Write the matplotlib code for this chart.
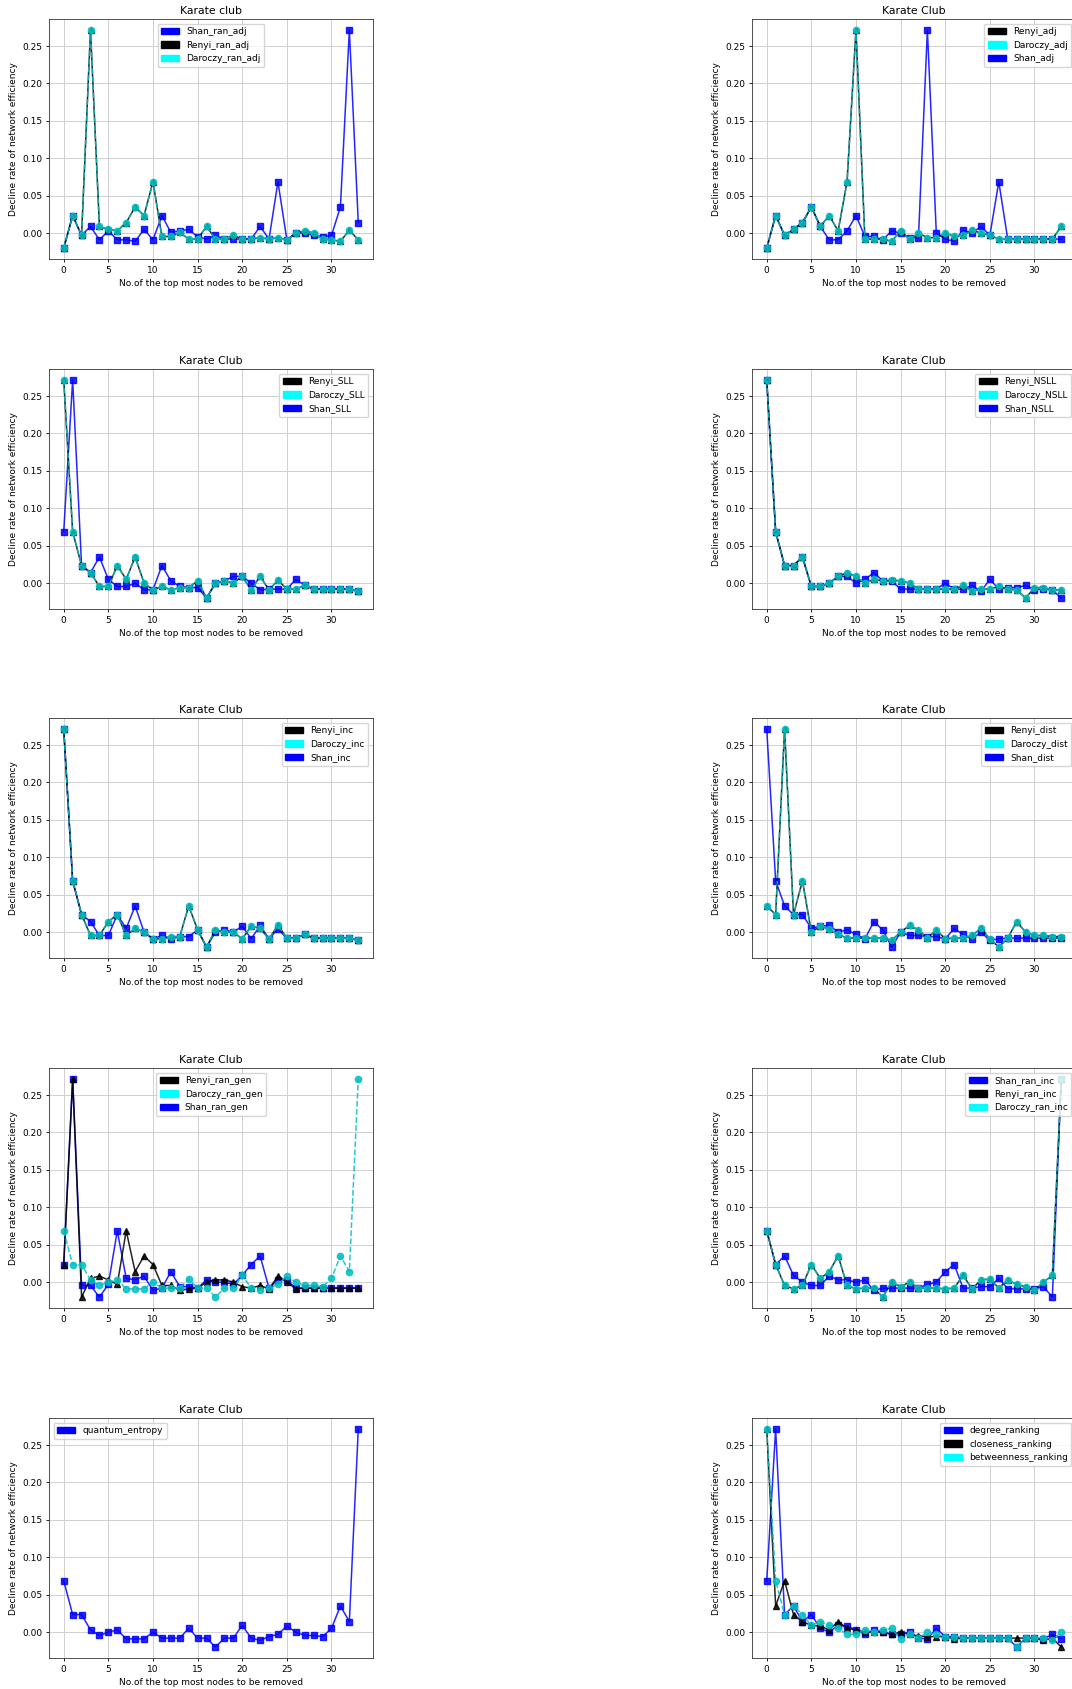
import numpy as np
import matplotlib.pyplot as plt
import matplotlib.patches as mpatches

x = np.arange(34)

# Karate club, random adjacency
shan_ran_adj = [-0.02, 0.0235, -0.003, 0.009, -0.009, 0.003, -0.009, -0.009, -0.011, 0.005, -0.009,
                0.0235, 0.001, 0.003, 0.005, -0.005, -0.008, -0.003, -0.008, -0.008, -0.008,
                -0.008, 0.009, -0.008, 0.0686, -0.009, 0.0, 0.0, -0.003, -0.005, -0.003, 0.035, 0.2716, 0.014]
renyi_ran_adj = [-0.02, 0.0235, -0.003, 0.2716, 0.009, 0.005, 0.003, 0.014, 0.035, 0.0235, 0.0686,
                 -0.0045, -0.0045, 0.001, -0.008, -0.008, 0.009, -0.008, -0.008, -0.003, -0.008,
                 -0.008, -0.006, -0.008, -0.006, -0.009, 0.0, 0.003, 0.0, -0.008, -0.009, -0.011, 0.004, -0.009]
daroczy_ran_adj = list(renyi_ran_adj)

# adjacency
shan_adj = [-0.02, 0.0235, -0.003, 0.005, 0.014, 0.035, 0.009, -0.009, -0.009, 0.003, 0.0235,
            -0.0045, -0.0045, -0.009, 0.003, 0.0, -0.006, -0.006, 0.2716, 0.0, -0.008,
            -0.011, 0.004, 0.0, 0.009, -0.003, 0.0686, -0.008, -0.008, -0.008, -0.008, -0.008, -0.008, -0.008]
renyi_adj = [-0.02, 0.0235, -0.003, 0.005, 0.014, 0.035, 0.009, 0.0235, 0.003, 0.0686, 0.2716,
             -0.008, -0.008, -0.008, -0.011, 0.003, -0.008, 0.0, -0.006, -0.006, 0.0,
             -0.004, -0.003, 0.004, 0.0, -0.003, -0.008, -0.008, -0.008, -0.008, -0.008, -0.008, -0.008, 0.009]
daroczy_adj = list(renyi_adj)

# SLL
shan_sll = [0.0686, 0.2716, 0.0235, 0.014, 0.035, 0.005, -0.0045, -0.0045, 0.0, -0.009, -0.009,
            0.0235, 0.003, -0.0045, -0.006, -0.006, -0.02, 0.0, 0.003, 0.009, 0.009,
            0.0, -0.009, -0.008, -0.008, -0.008, 0.005, -0.003, -0.008, -0.008, -0.008, -0.008, -0.008, -0.011]
renyi_sll = [0.2716, 0.0686, 0.0235, 0.014, -0.0045, -0.0045, 0.0235, 0.005, 0.035, 0.0, -0.009,
             -0.0045, -0.009, -0.006, -0.006, 0.003, -0.02, 0.0, 0.003, 0.0, 0.009,
             -0.009, 0.009, -0.009, 0.004, -0.008, -0.008, -0.003, -0.008, -0.008, -0.008, -0.008, -0.008, -0.011]
daroczy_sll = list(renyi_sll)

# NSLL
shan_nsll = [0.2716, 0.0686, 0.0235, 0.0235, 0.035, -0.0045, -0.0045, 0.0, 0.009, 0.009, 0.0,
             0.005, 0.014, 0.003, 0.003, -0.008, -0.008, -0.008, -0.008, -0.008, 0.0,
             -0.008, -0.008, -0.003, -0.011, 0.005, -0.008, -0.006, -0.006, -0.003, -0.009, -0.008, -0.009, -0.02]
renyi_nsll = [0.2716, 0.0686, 0.0235, 0.0235, 0.035, -0.0045, -0.0045, 0.0, 0.009, 0.014, 0.009,
              0.0, 0.005, 0.003, 0.004, 0.003, 0.0, -0.008, -0.008, -0.008, -0.008,
              -0.008, -0.003, -0.011, -0.008, -0.008, -0.0045, -0.008, -0.009, -0.02, -0.006, -0.006, -0.009, -0.009]
daroczy_nsll = list(renyi_nsll)

# incidence
shan_inc = [0.2716, 0.0686, 0.0235, 0.014, -0.0045, -0.0045, 0.0235, 0.005, 0.035, 0.0, -0.009,
            -0.0045, -0.009, -0.006, -0.006, 0.003, -0.02, 0.0, 0.003, 0.0, 0.008,
            -0.009, 0.009, -0.009, 0.004, -0.008, -0.008, -0.003, -0.008, -0.008, -0.008, -0.008, -0.008, -0.011]
renyi_inc = [0.2716, 0.0686, 0.0235, -0.0045, -0.0045, 0.014, 0.0235, -0.0045, 0.005, 0.0, -0.009,
             -0.009, -0.006, -0.006, 0.035, 0.003, -0.02, 0.003, 0.0, 0.0, -0.009,
             0.008, 0.005, -0.009, 0.009, -0.008, -0.008, -0.003, -0.008, -0.008, -0.008, -0.008, -0.008, -0.011]
daroczy_inc = list(renyi_inc)

# distance
shan_dist = [0.2716, 0.0686, 0.035, 0.0235, 0.0235, 0.005, 0.008, 0.009, 0.0, 0.003, -0.003,
             -0.009, 0.014, 0.003, -0.02, 0.0, -0.0045, -0.0045, -0.006, -0.006, -0.009,
             0.005, -0.003, -0.009, 0.0, -0.011, -0.009, -0.008, -0.008, -0.008, -0.008, -0.008, -0.008, -0.008]
renyi_dist = [0.035, 0.0235, 0.2716, 0.0235, 0.0686, 0.0, 0.008, 0.004, -0.003, -0.008, -0.008,
              -0.008, -0.008, -0.008, -0.011, 0.0, 0.009, 0.003, -0.008, 0.003, -0.009,
              -0.008, -0.008, -0.0045, 0.005, -0.009, -0.02, -0.008, 0.014, 0.0, -0.0045, -0.0045, -0.006, -0.006]
daroczy_dist = list(renyi_dist)

# random general
renyi_ran_gen = [0.0235, 0.2716, -0.02, 0.005, 0.008, 0.003, -0.003, 0.0686, 0.014, 0.035, 0.0235,
                 -0.0045, -0.0045, -0.011, -0.009, -0.008, 0.0, 0.003, 0.003, 0.0, -0.006,
                 -0.008, -0.0045, -0.009, 0.008, 0.0, -0.009, -0.008, -0.008, -0.008, -0.008, -0.008, -0.008, -0.008]
daroczy_ran_gen = [0.0686, 0.0235, 0.0235, 0.003, -0.0045, 0.0, 0.003, -0.009, -0.009, -0.009, 0.0,
                   -0.008, -0.008, -0.008, 0.004, -0.008, -0.008, -0.02, -0.008, -0.008, 0.009,
                   -0.008, -0.011, -0.008, -0.003, 0.008, 0.0, -0.0045, -0.0045, -0.006, 0.005, 0.035, 0.014, 0.2716]
shan_ran_gen = [0.0235, 0.2716, -0.0045, -0.0045, -0.02, -0.003, 0.0686, 0.005, 0.003, 0.008, -0.011,
                -0.008, 0.014, -0.006, -0.006, -0.008, 0.003, 0.0, 0.0, -0.003, 0.009,
                0.0235, 0.035, -0.008, 0.003, 0.003, -0.008, -0.008, -0.008, -0.008, -0.008, -0.008, -0.008, -0.008]

# random incidence
shan_ran_inc = [0.0686, 0.0235, 0.035, 0.009, 0.0, -0.0045, -0.0045, 0.008, 0.003, 0.003, 0.0,
                0.003, -0.011, -0.008, -0.008, -0.008, -0.008, -0.008, -0.003, 0.0, 0.014,
                0.0235, -0.008, -0.008, -0.006, -0.006, 0.005, -0.009, -0.009, -0.009, -0.009, -0.006, -0.02, 0.2716]
renyi_ran_inc = [0.0686, 0.0235, -0.0045, -0.009, -0.0045, 0.0235, 0.005, 0.014, 0.035, -0.0045, -0.009,
                 -0.008, -0.008, -0.02, 0.0, -0.006, 0.0, -0.008, -0.008, -0.008, -0.009,
                 -0.008, 0.009, -0.009, 0.003, 0.004, -0.008, 0.003, -0.003, -0.006, -0.011, 0.0, 0.009, 0.2716]
daroczy_ran_inc = list(renyi_ran_inc)

quantum_entropy = [0.0686, 0.0235, 0.0235, 0.003, -0.0045, 0.0, 0.003, -0.009, -0.009, -0.009, 0.0,
                   -0.008, -0.008, -0.008, 0.005, -0.008, -0.008, -0.02, -0.008, -0.008, 0.009,
                   -0.008, -0.011, -0.006, -0.003, 0.008, 0.0, -0.0045, -0.0045, -0.006, 0.005, 0.035, 0.014, 0.2716]

degree_ranking = [0.0686, 0.2716, 0.0235, 0.035, 0.014, 0.0235, 0.005, 0.0, 0.009, 0.008, 0.003,
                  -0.003, 0.003, 0.0, -0.003, -0.003, 0.0, -0.008, -0.009, 0.005, -0.006,
                  -0.006, -0.008, -0.008, -0.008, -0.008, -0.008, -0.008, -0.02, -0.008, -0.008, -0.009, -0.003, -0.009]
closeness_ranking = [0.2716, 0.035, 0.0686, 0.0235, 0.014, 0.009, 0.008, 0.003, 0.014, 0.005, 0.003,
                     0.0, 0.0, 0.0, -0.003, 0.0, -0.003, -0.005, -0.006, -0.006, -0.006,
                     -0.009, -0.008, -0.008, -0.008, -0.008, -0.008, -0.008, -0.008, -0.008, -0.008, -0.011, -0.008, -0.02]
betweenness_ranking = [0.2716, 0.0686, 0.0235, 0.035, 0.0235, 0.009, 0.014, 0.009, 0.005, -0.003, -0.003,
                       0.003, 0.0, 0.003, 0.005, -0.009, -0.003, -0.008, 0.0, -0.003, -0.006,
                       -0.006, -0.008, -0.008, -0.008, -0.008, -0.008, -0.008, -0.02, -0.008, -0.008, -0.008, -0.011, 0.0]

plt.rcParams['font.size'] = 6.5
plt.rcParams['axes.titlesize'] = 7.8
plt.rcParams['axes.titlepad'] = 3.5
plt.rcParams['axes.labelpad'] = 3
plt.rcParams['axes.linewidth'] = 0.6
plt.rcParams['axes.edgecolor'] = '#333333'
plt.rcParams['xtick.major.size'] = 2.3
plt.rcParams['ytick.major.size'] = 2.3
plt.rcParams['xtick.major.pad'] = 2.5
plt.rcParams['ytick.major.pad'] = 2.5
plt.rcParams['xtick.major.width'] = 0.6
plt.rcParams['ytick.major.width'] = 0.6
plt.rcParams['grid.color'] = '#d0d0d0'

# line styles per role: blue squares, black triangles, cyan dashed circles
style = {'b': dict(color='b', marker='s', linestyle='-'),
         'k': dict(color='k', marker='^', linestyle='-'),
         'c': dict(color='c', marker='o', linestyle='--')}
patch_col = {'b': 'blue', 'k': 'black', 'c': 'cyan'}

# (title, [(label, data, role)] plot order, legend order, legend loc)
panels = [
    ('Karate club', [('Shan_ran_adj', shan_ran_adj, 'b'), ('Renyi_ran_adj', renyi_ran_adj, 'k'),
                     ('Daroczy_ran_adj', daroczy_ran_adj, 'c')], [0, 1, 2], 'upper center'),
    ('Karate Club', [('Shan_adj', shan_adj, 'b'), ('Renyi_adj', renyi_adj, 'k'),
                     ('Daroczy_adj', daroczy_adj, 'c')], [1, 2, 0], 'upper right'),
    ('Karate Club', [('Shan_SLL', shan_sll, 'b'), ('Renyi_SLL', renyi_sll, 'k'),
                     ('Daroczy_SLL', daroczy_sll, 'c')], [1, 2, 0], 'upper right'),
    ('Karate Club', [('Shan_NSLL', shan_nsll, 'b'), ('Renyi_NSLL', renyi_nsll, 'k'),
                     ('Daroczy_NSLL', daroczy_nsll, 'c')], [1, 2, 0], 'upper right'),
    ('Karate Club', [('Shan_inc', shan_inc, 'b'), ('Renyi_inc', renyi_inc, 'k'),
                     ('Daroczy_inc', daroczy_inc, 'c')], [1, 2, 0], 'upper right'),
    ('Karate Club', [('Shan_dist', shan_dist, 'b'), ('Renyi_dist', renyi_dist, 'k'),
                     ('Daroczy_dist', daroczy_dist, 'c')], [1, 2, 0], 'upper right'),
    ('Karate Club', [('Shan_ran_gen', shan_ran_gen, 'b'), ('Renyi_ran_gen', renyi_ran_gen, 'k'),
                     ('Daroczy_ran_gen', daroczy_ran_gen, 'c')], [1, 2, 0], 'upper center'),
    ('Karate Club', [('Shan_ran_inc', shan_ran_inc, 'b'), ('Renyi_ran_inc', renyi_ran_inc, 'k'),
                     ('Daroczy_ran_inc', daroczy_ran_inc, 'c')], [0, 1, 2], 'upper right'),
    ('Karate Club', [('quantum_entropy', quantum_entropy, 'b')], [0], 'upper left'),
    ('Karate Club', [('degree_ranking', degree_ranking, 'b'), ('closeness_ranking', closeness_ranking, 'k'),
                     ('betweenness_ranking', betweenness_ranking, 'c')], [0, 1, 2], 'upper right'),
]

W, H = 1072, 1689
fig = plt.figure(figsize=(W / 100, H / 100), dpi=100)
lefts = [49, 752]
tops = [19, 369, 718, 1068, 1418]
aw, ah = 324, 240

for i, (title, series, order, loc) in enumerate(panels):
    l = lefts[i % 2]
    t = tops[i // 2]
    ax = fig.add_axes([l / W, 1 - (t + ah) / H, aw / W, ah / H])
    for label, y, role in series:
        ax.plot(x, y, markersize=4.5, linewidth=1.1, alpha=0.85, **style[role])
    handles = [mpatches.Patch(color=patch_col[series[j][2]], label=series[j][0]) for j in order]
    ax.legend(handles=handles, loc=loc, fontsize=6.5)
    ax.grid(True, linewidth=0.7)
    ax.set_title(title)
    ax.set_xlabel('No.of the top most nodes to be removed')
    ax.set_ylabel('Decline rate of network efficiency')

plt.savefig('out.png', dpi=100)
